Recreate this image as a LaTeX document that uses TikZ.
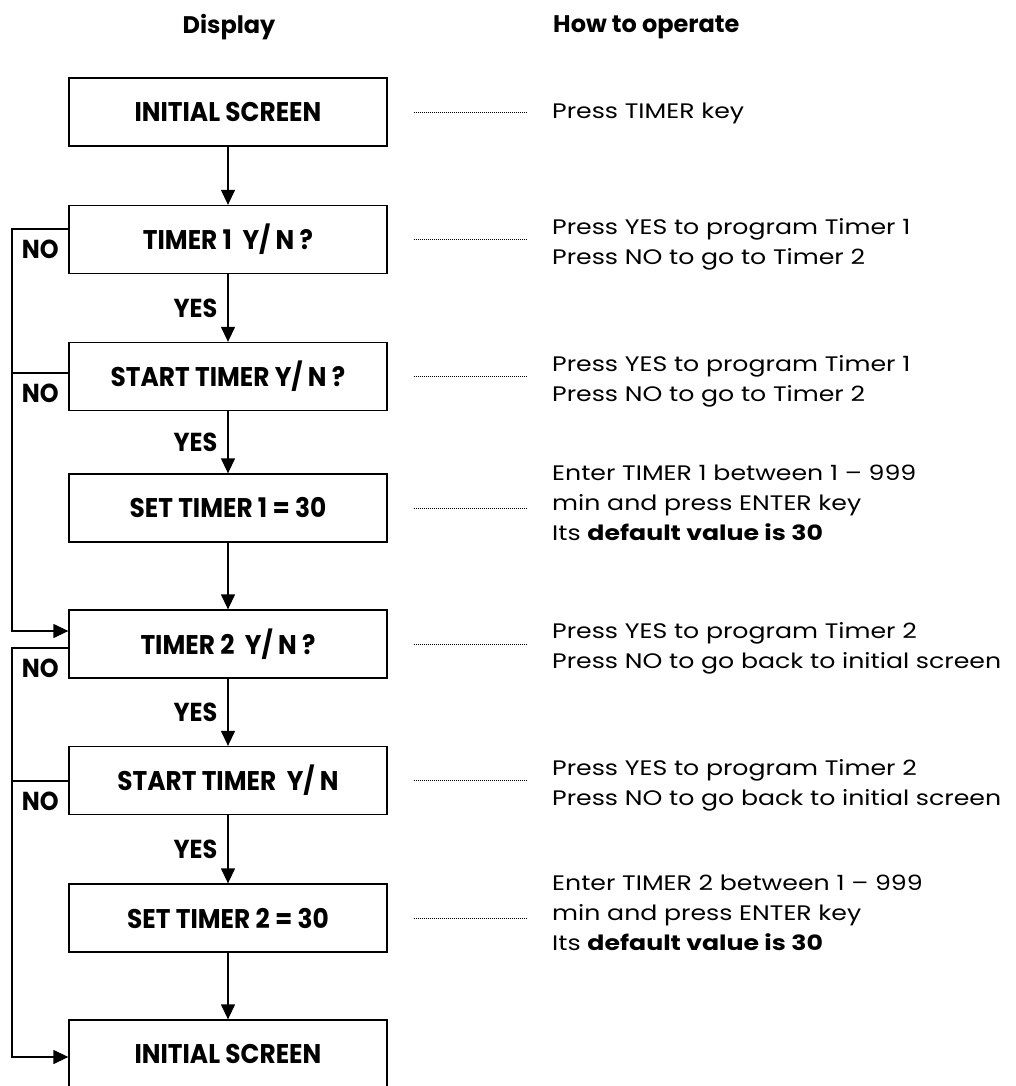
\documentclass[tikz,border=0pt]{standalone}
\usepackage{fontspec}
\setmainfont{Poppins}
\newfontfamily\screenfont[FakeStretch=0.92]{Poppins}
\newfontfamily\hintfont[FakeStretch=1.2]{Poppins}
\usetikzlibrary{arrows.meta}

\tikzset{
  screen/.style={draw, line width=1.3pt, minimum width=318pt, minimum height=68pt,
    inner sep=0pt, font=\screenfont\bfseries\fontsize{27}{32}\selectfont},
  hint/.style={anchor=west, align=left, inner sep=0pt, font=\hintfont\fontsize{21}{30}\selectfont},
  head/.style={inner sep=0pt, font=\bfseries\fontsize{24}{28}\selectfont},
  answer/.style={inner sep=0pt, font=\screenfont\bfseries\fontsize{26}{30}\selectfont},
  flow/.style={line width=1.3pt, -{Triangle[width=14pt,length=15pt]}},
  rail/.style={line width=1.3pt},
  guide/.style={line width=0.8pt, dash pattern=on 0.8pt off 1.2pt,
    shorten <=26pt, shorten >=25pt},
}

\begin{document}
\begin{tikzpicture}[x=1pt,y=-1pt]
\useasboundingbox (0,0) rectangle (1016,1086);
\clip (0,0) rectangle (1016,1086);

% column heads
\node[head] (hdisp) at (229,27) {Display};
\node[head, anchor=west] (hop) at (553,27) {How to operate};

% display screens
\node[screen] (init) at (228,112) {INITIAL SCREEN};
\node[screen] (tmra) at (228,239.5) {TIMER 1\ \ Y/ N ?};
\node[screen] (starta) at (228,376.5) {START TIMER Y/ N ?};
\node[screen] (seta) at (228,508) {SET TIMER 1 = 30};
\node[screen] (tmrb) at (228,644) {TIMER 2\ \ Y/ N ?};
\node[screen] (startb) at (228,780.5) {START TIMER\ \ Y/ N};
\node[screen] (setb) at (228,918) {SET TIMER 2 = 30};
\node[screen] (done) at (228,1054) {INITIAL SCREEN};

% how to operate
\node[hint] (opinit) at (552,113) {Press TIMER key};
\node[hint] (optmra) at (552,244) {Press YES to program Timer 1\\Press NO to go to Timer 2};
\node[hint] (opstarta) at (552,381) {Press YES to program Timer 1\\Press NO to go to Timer 2};
\node[hint] (opseta) at (552,503) {Enter TIMER 1 between 1 – 999\\min and press ENTER key\\Its \textbf{default value is 30}};
\node[hint] (optmrb) at (552,648) {Press YES to program Timer 2\\Press NO to go back to initial screen};
\node[hint] (opstartb) at (552,785) {Press YES to program Timer 2\\Press NO to go back to initial screen};
\node[hint] (opsetb) at (552,913) {Enter TIMER 2 between 1 – 999\\min and press ENTER key\\Its \textbf{default value is 30}};

% dotted guides
\draw[guide] (init.east) -- (init.east -| opinit.west);
\draw[guide] (tmra.east) -- (tmra.east -| optmra.west);
\draw[guide] (starta.east) -- (starta.east -| opstarta.west);
\draw[guide] (seta.east) -- (seta.east -| opseta.west);
\draw[guide] (tmrb.east) -- (tmrb.east -| optmrb.west);
\draw[guide] (startb.east) -- (startb.east -| opstartb.west);
\draw[guide] (setb.east) -- (setb.east -| opsetb.west);

% YES path
\draw[flow] (init) -- (tmra);
\draw[flow] (tmra) -- node[answer, left=10pt] (ya) {YES} (starta);
\draw[flow] (starta) -- node[answer, left=10pt] (yb) {YES} (seta);
\draw[flow] (seta) -- (tmrb);
\draw[flow] (tmrb) -- node[answer, left=10pt] (yc) {YES} (startb);
\draw[flow] (startb) -- node[answer, left=10pt] (yd) {YES} (setb);
\draw[flow] (setb) -- (done);

% NO path
\coordinate (rail) at (12,0);
\draw[flow] ([yshift=10.5pt]tmra.west)
  node[answer, anchor=north east, xshift=-9pt, yshift=-10pt] (na) {NO}
  -- ([yshift=10.5pt]tmra.west -| rail) |- ([yshift=13pt]tmrb.west);
\draw[rail] ([yshift=3.5pt]starta.west)
  node[answer, anchor=north east, xshift=-9pt, yshift=-10pt] (nb) {NO}
  -- ([yshift=3.5pt]starta.west -| rail);
\draw[flow] ([yshift=-4pt]tmrb.west)
  node[answer, anchor=north east, xshift=-9pt, yshift=-10pt] (nc) {NO}
  -- ([yshift=-4pt]tmrb.west -| rail) |- ([yshift=-3pt]done.west);
\draw[rail] ([yshift=-0.5pt]startb.west)
  node[answer, anchor=north east, xshift=-9pt, yshift=-10pt] (nd) {NO}
  -- ([yshift=-0.5pt]startb.west -| rail);
\end{tikzpicture}
\end{document}
